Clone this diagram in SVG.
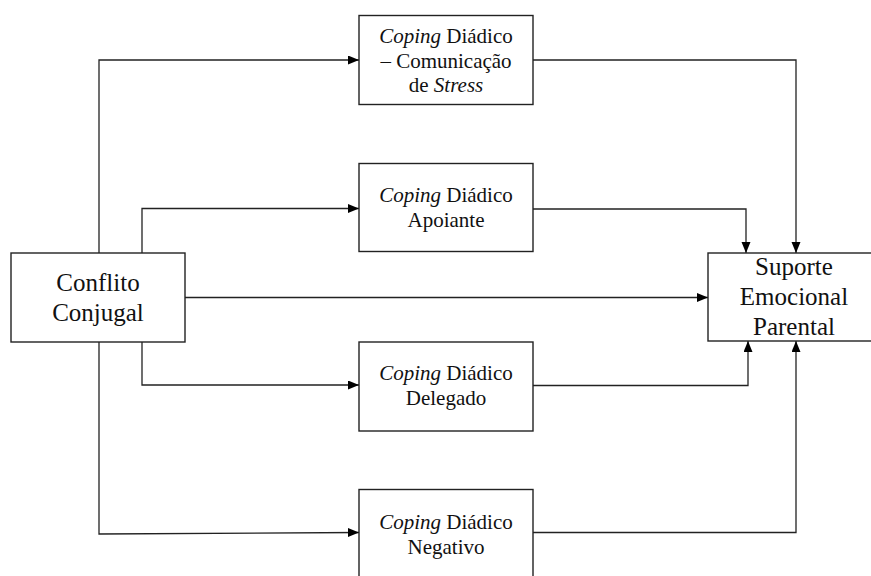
<svg xmlns="http://www.w3.org/2000/svg" width="871" height="576" viewBox="0 0 871 576">
<defs>
<style>
.box{fill:#fff;stroke:#222;stroke-width:1.4}
text{font-family:"Liberation Serif","Times New Roman",serif;fill:#111;text-anchor:middle}
.big{font-size:25px}
.sm{font-size:21px}
.it{font-style:italic}
.conn{fill:none;stroke:#222;stroke-width:1.3}
</style>
<marker id="ah" markerUnits="userSpaceOnUse" markerWidth="11" markerHeight="10" refX="11" refY="4.5" orient="auto">
<path d="M0,0 L11,4.5 L0,9 z" fill="#000"/>
</marker>
</defs>
<rect width="871" height="576" fill="#fff"/>
<g id="connectors">
<polyline class="conn" points="99,253 99,60 359,60" marker-end="url(#ah)"/>
<polyline class="conn" points="142,253 142,208.5 359,208.5" marker-end="url(#ah)"/>
<polyline class="conn" points="185,297.5 708,297.5" marker-end="url(#ah)"/>
<polyline class="conn" points="142,342 142,385 359,385" marker-end="url(#ah)"/>
<polyline class="conn" points="99,342 99,534 359,532.5" marker-end="url(#ah)"/>
<polyline class="conn" points="533,60 796,60 796,253" marker-end="url(#ah)"/>
<polyline class="conn" points="533,209 746,209 746,253" marker-end="url(#ah)"/>
<polyline class="conn" points="533,385.5 748,385.5 748,341" marker-end="url(#ah)"/>
<polyline class="conn" points="533,532.5 796,532.5 796,341" marker-end="url(#ah)"/>
</g>
<g id="conflito">
<rect class="box" x="11" y="253" width="174" height="89"/>
<text class="big" x="98" y="291">Conflito</text>
<text class="big" x="98" y="321">Conjugal</text>
</g>
<g id="comunicacao">
<rect class="box" x="359" y="15.5" width="174" height="89"/>
<text class="sm" x="446" y="43"><tspan class="it">Coping</tspan> Diádico</text>
<text class="sm" x="446" y="67.5">– Comunicação</text>
<text class="sm" x="446" y="92">de <tspan class="it">Stress</tspan></text>
</g>
<g id="apoiante">
<rect class="box" x="359" y="163.5" width="174" height="88"/>
<text class="sm" x="446" y="202"><tspan class="it">Coping</tspan> Diádico</text>
<text class="sm" x="446" y="226.5">Apoiante</text>
</g>
<g id="delegado">
<rect class="box" x="359" y="342" width="174" height="89"/>
<text class="sm" x="446" y="379.5"><tspan class="it">Coping</tspan> Diádico</text>
<text class="sm" x="446" y="404.5">Delegado</text>
</g>
<g id="negativo">
<rect class="box" x="359" y="489.5" width="174" height="92"/>
<text class="sm" x="446" y="528.5"><tspan class="it">Coping</tspan> Diádico</text>
<text class="sm" x="446" y="553.5">Negativo</text>
</g>
<g id="suporte">
<rect class="box" x="708" y="253" width="175" height="88"/>
<text class="big" x="794" y="275">Suporte</text>
<text class="big" x="794" y="305">Emocional</text>
<text class="big" x="794" y="334.5">Parental</text>
</g>
</svg>
